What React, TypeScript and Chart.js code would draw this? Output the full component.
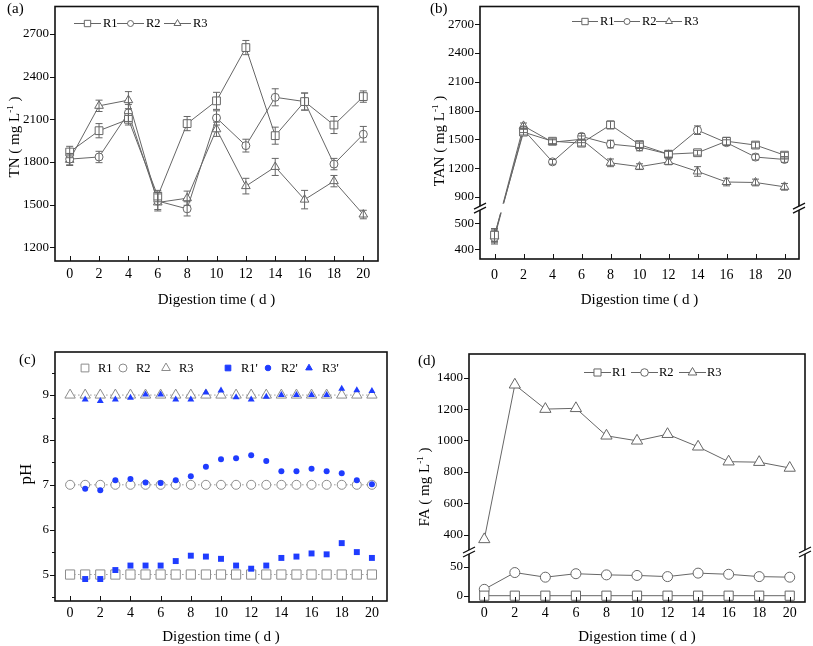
import React, { useEffect, useRef } from 'react';
import { Chart, registerables, LinearScale } from 'chart.js';

const FONT = "'Liberation Serif', 'Times New Roman', Times, serif";

// ---------------- data ----------------
const days = [0, 2, 4, 6, 8, 10, 12, 14, 16, 18, 20];
const xTicks = [0, 2, 4, 6, 8, 10, 12, 14, 16, 18, 20];

// (a) TN
const tnR1 = [1870, 2020, 2100, 1560, 2070, 2230, 2605, 1985, 2225, 2060, 2260];
const tnR2 = [1820, 1835, 2145, 1525, 1470, 2110, 1915, 2255, 2225, 1785, 1995];
const tnR3 = [1815, 2195, 2235, 1515, 1545, 2030, 1630, 1765, 1535, 1665, 1430];
const tnErrR1 = [40, 50, 40, 40, 50, 60, 50, 60, 60, 60, 40];
const tnErrR2 = [40, 40, 60, 60, 50, 50, 45, 60, 60, 40, 55];
const tnErrR3 = [40, 40, 60, 60, 50, 50, 55, 60, 65, 40, 30];
const tnTicks = [1200, 1500, 1800, 2100, 2400, 2700];

// (b) TAN
const tanR1 = [455, 1575, 1480, 1460, 1650, 1445, 1345, 1360, 1480, 1440, 1335];
const tanR2 = [445, 1600, 1265, 1530, 1450, 1420, 1345, 1595, 1465, 1315, 1290];
const tanR3 = [450, 1640, 1470, 1500, 1255, 1215, 1265, 1165, 1055, 1050, 1005];
const tanErrR1 = [25, 30, 25, 30, 40, 30, 35, 25, 40, 30, 30];
const tanErrR2 = [25, 30, 25, 30, 40, 40, 30, 45, 30, 30, 30];
const tanErrR3 = [25, 30, 25, 35, 40, 30, 30, 50, 40, 35, 35];
const tanTicks = [400, 500, 900, 1200, 1500, 1800, 2100, 2400, 2700];

// (c) pH
const phDays = [0, 1, 2, 3, 4, 5, 6, 7, 8, 9, 10, 11, 12, 13, 14, 15, 16, 17, 18, 19, 20];
const phR1 = [5, 5, 5, 5, 5, 5, 5, 5, 5, 5, 5, 5, 5, 5, 5, 5, 5, 5, 5, 5, 5];
const phR2 = [7, 7, 7, 7, 7, 7, 7, 7, 7, 7, 7, 7, 7, 7, 7, 7, 7, 7, 7, 7, 7];
const phR3 = [9, 9, 9, 9, 9, 9, 9, 9, 9, 9, 9, 9, 9, 9, 9, 9, 9, 9, 9, 9, 9];
const phDaysP = [1, 2, 3, 4, 5, 6, 7, 8, 9, 10, 11, 12, 13, 14, 15, 16, 17, 18, 19, 20];
const phR1p = [4.9, 4.9, 5.1, 5.2, 5.2, 5.2, 5.3, 5.42, 5.4, 5.35, 5.2, 5.13, 5.2, 5.37, 5.4, 5.47, 5.45, 5.7, 5.5, 5.37];
const phR2p = [6.91, 6.88, 7.1, 7.13, 7.05, 7.04, 7.1, 7.19, 7.4, 7.57, 7.59, 7.66, 7.53, 7.3, 7.3, 7.36, 7.3, 7.26, 7.1, 7.01];
const phR3p = [8.9, 8.87, 8.9, 8.94, 9.01, 9.01, 8.9, 8.9, 9.06, 9.1, 8.95, 8.9, 8.96, 9.0, 9.0, 9.0, 9.0, 9.14, 9.11, 9.09];
const phTicks = [5, 6, 7, 8, 9];
const phMinorTicks = [4.5, 5.5, 6.5, 7.5, 8.5, 9.5];

// (d) FA
const faR1 = [0, 0, 0, 0, 0, 0, 0, 0, 0, 0, 0];
const faR2 = [11, 40, 32, 38, 36, 35, 33, 39, 37, 33, 32];
const faR3 = [370, 1355, 1200, 1205, 1030, 998, 1040, 960, 865, 862, 825];
const faTicks = [0, 50, 400, 600, 800, 1000, 1200, 1400];

// ---------------- broken axis scale ----------------
class BrokenScale extends LinearScale {
  static id = 'brokenLinear';
  static defaults = {};
  _frac(v: number) {
    const o: any = this.options;
    if (v <= o.segLowMax) return ((v - o.segLowMin) / (o.segLowMax - o.segLowMin)) * o.segLowTo;
    if (v >= o.segHighMin)
      return o.segHighFrom + ((v - o.segHighMin) / (o.segHighMax - o.segHighMin)) * (1 - o.segHighFrom);
    return o.segLowTo + ((v - o.segLowMax) / (o.segHighMin - o.segLowMax)) * (o.segHighFrom - o.segLowTo);
  }
  getPixelForValue(value: any) {
    if (value === null || value === undefined || Number.isNaN(+value)) return NaN;
    return this.getPixelForDecimal(this._frac(+value));
  }
  getValueForPixel(pixel: number) {
    const o: any = this.options;
    const f = this.getDecimalForPixel(pixel);
    if (f <= o.segLowTo) return o.segLowMin + (f / o.segLowTo) * (o.segLowMax - o.segLowMin);
    if (f >= o.segHighFrom)
      return o.segHighMin + ((f - o.segHighFrom) / (1 - o.segHighFrom)) * (o.segHighMax - o.segHighMin);
    return o.segLowMax + ((f - o.segLowTo) / (o.segHighFrom - o.segLowTo)) * (o.segHighMin - o.segLowMax);
  }
}
Chart.register(...registerables, BrokenScale as any);

// ---------------- helpers ----------------
const LINE = '#666666';
const GRAYC = '#8c8c8c';
const BLUE = '#1f3cff';
const LEGEND_FONT = 12.5;

const pts = (xs: number[], ys: number[]) => xs.map((x, i) => ({ x, y: ys[i] }));

function series(label: string, xs: number[], ys: number[], style: string, r: number, errs?: number[]) {
  return {
    label,
    data: pts(xs, ys),
    borderColor: LINE,
    borderWidth: 1,
    pointStyle: style,
    pointRadius: r,
    pointHoverRadius: r,
    pointBackgroundColor: '#fff',
    pointBorderColor: LINE,
    pointBorderWidth: 1,
    fill: false,
    tension: 0,
    errorBars: errs,
  };
}

function drawMarker(ctx: CanvasRenderingContext2D, style: string, x: number, y: number, r: number, fill: string, stroke: string) {
  ctx.beginPath();
  if (style === 'rect') {
    const s = r * Math.SQRT1_2;
    ctx.rect(x - s, y - s, 2 * s, 2 * s);
  } else if (style === 'circle') {
    ctx.arc(x, y, r, 0, Math.PI * 2);
  } else {
    ctx.moveTo(x, y - r);
    ctx.lineTo(x + r * 0.866, y + r / 2);
    ctx.lineTo(x - r * 0.866, y + r / 2);
    ctx.closePath();
  }
  ctx.fillStyle = fill;
  ctx.fill();
  ctx.strokeStyle = stroke;
  ctx.lineWidth = 1;
  ctx.stroke();
}

function drawYTitle(ctx: CanvasRenderingContext2D, cx: number, cy: number, parts: any[]) {
  ctx.save();
  ctx.translate(cx, cy);
  ctx.rotate(-Math.PI / 2);
  let total = 0;
  const ws = parts.map((p) => {
    ctx.font = `${p.size}px ${FONT}`;
    const w = ctx.measureText(p.t).width;
    total += w;
    return w;
  });
  let x = -total / 2;
  ctx.textBaseline = 'alphabetic';
  ctx.textAlign = 'left';
  ctx.fillStyle = '#000';
  parts.forEach((p, i) => {
    ctx.font = `${p.size}px ${FONT}`;
    ctx.fillText(p.t, x, 5 + (p.dy || 0));
    x += ws[i];
  });
  ctx.restore();
}

function decor(cfg: any) {
  return {
    id: 'decor',
    afterDatasetsDraw(chart: any) {
      const { ctx, chartArea: ca } = chart;
      const ys = chart.scales.y;
      ctx.save();
      if (cfg.broken) {
        const o = ys.options;
        const pLow = ys.getPixelForDecimal(o.segLowTo);
        const pHigh = ys.getPixelForDecimal(o.segHighFrom);
        ctx.fillStyle = '#fff';
        ctx.fillRect(ca.left + 1, pHigh, ca.right - ca.left - 2, pLow - pHigh);
      }
      chart.data.datasets.forEach((ds: any, i: number) => {
        const errs = ds.errorBars;
        if (!errs) return;
        const meta = chart.getDatasetMeta(i);
        ctx.strokeStyle = ds.borderColor;
        ctx.lineWidth = 1;
        meta.data.forEach((pt: any, j: number) => {
          const v = ds.data[j].y;
          const e = errs[j];
          const y1 = ys.getPixelForValue(v + e);
          const y2 = ys.getPixelForValue(v - e);
          ctx.beginPath();
          ctx.moveTo(pt.x, y1);
          ctx.lineTo(pt.x, y2);
          ctx.moveTo(pt.x - 3.5, y1);
          ctx.lineTo(pt.x + 3.5, y1);
          ctx.moveTo(pt.x - 3.5, y2);
          ctx.lineTo(pt.x + 3.5, y2);
          ctx.stroke();
        });
      });
      ctx.restore();
    },
    afterDraw(chart: any) {
      const { ctx, chartArea: ca } = chart;
      const xs = chart.scales.x;
      const ys = chart.scales.y;
      ctx.save();
      // frame
      ctx.strokeStyle = '#111';
      ctx.lineWidth = 1.6;
      ctx.strokeRect(ca.left, ca.top, ca.right - ca.left, ca.bottom - ca.top);
      // ticks
      ctx.lineWidth = 1;
      ctx.strokeStyle = '#111';
      ctx.beginPath();
      ys.ticks.forEach((t: any) => {
        const y = Math.round(ys.getPixelForValue(t.value)) + 0.5;
        ctx.moveTo(ca.left - 5, y);
        ctx.lineTo(ca.left, y);
      });
      (cfg.yMinor || []).forEach((v: number) => {
        const y = Math.round(ys.getPixelForValue(v)) + 0.5;
        ctx.moveTo(ca.left - 3, y);
        ctx.lineTo(ca.left, y);
      });
      xs.ticks.forEach((t: any) => {
        const x = Math.round(xs.getPixelForValue(t.value)) + 0.5;
        ctx.moveTo(x, ca.bottom);
        ctx.lineTo(x, ca.bottom - 5);
      });
      ctx.stroke();
      // axis break marks
      if (cfg.broken) {
        const o = ys.options;
        const pc = (ys.getPixelForDecimal(o.segLowTo) + ys.getPixelForDecimal(o.segHighFrom)) / 2;
        [ca.left, ca.right].forEach((x: number) => {
          ctx.fillStyle = '#fff';
          ctx.fillRect(x - 2, pc - 2, 4, 4);
          ctx.strokeStyle = '#111';
          ctx.lineWidth = 1.3;
          ctx.beginPath();
          ctx.moveTo(x - 6, pc + 5);
          ctx.lineTo(x + 6, pc - 1);
          ctx.moveTo(x - 6, pc + 1);
          ctx.lineTo(x + 6, pc - 5);
          ctx.stroke();
        });
      }
      // legend
      const lg = cfg.legend;
      ctx.textBaseline = 'middle';
      ctx.textAlign = 'left';
      lg.items.forEach((it: any) => {
        const ds = chart.data.datasets[it.ds];
        if (lg.line) {
          ctx.strokeStyle = ds.borderColor;
          ctx.lineWidth = 1;
          ctx.beginPath();
          ctx.moveTo(it.x, lg.y + 0.5);
          ctx.lineTo(it.x + lg.lineLen, lg.y + 0.5);
          ctx.stroke();
          drawMarker(ctx, ds.pointStyle, it.x + lg.lineLen / 2, lg.y + 0.5, lg.r[it.ds], ds.pointBackgroundColor, ds.pointBorderColor);
        } else {
          drawMarker(ctx, ds.pointStyle, it.x, lg.y, lg.r[it.ds], ds.pointBackgroundColor, ds.pointBorderColor);
        }
        ctx.fillStyle = '#000';
        ctx.font = `${LEGEND_FONT}px ${FONT}`;
        ctx.fillText(ds.label, it.x + lg.textOff, lg.y + 1);
      });
      // panel label
      ctx.fillStyle = '#000';
      ctx.font = `15px ${FONT}`;
      ctx.textBaseline = 'middle';
      ctx.fillText(cfg.panel.text, cfg.panel.x, cfg.panel.y);
      // y title
      drawYTitle(ctx, cfg.yTitle.x, cfg.yTitle.y, cfg.yTitle.parts);
      ctx.restore();
    },
  };
}

function commonOptions(o: any) {
  const zeroPad = (s: any) => {
    s.paddingLeft = 0;
    s.paddingRight = 0;
    s.paddingTop = 0;
    s.paddingBottom = 0;
  };
  return {
    responsive: false,
    animation: false,
    devicePixelRatio: 1,
    events: [],
    layout: { padding: { left: 0, top: o.padTop, right: o.padRight, bottom: 0 } },
    plugins: { legend: { display: false }, tooltip: { enabled: false } },
    scales: {
      x: {
        type: 'linear',
        min: -1,
        max: 21,
        afterBuildTicks: (s: any) => {
          s.ticks = xTicks.map((v) => ({ value: v }));
        },
        afterFit: (s: any) => {
          s.height = o.xH;
          zeroPad(s);
        },
        grid: { display: false, drawTicks: false },
        border: { display: false },
        ticks: {
          font: { family: FONT, size: 14 },
          color: '#000',
          padding: o.xTickPad,
          autoSkip: false,
          maxRotation: 0,
          minRotation: 0,
          callback: (v: any) => String(v),
        },
        title: {
          display: true,
          text: 'Digestion time ( d )',
          font: { family: FONT, size: 15 },
          color: '#000',
          padding: { top: 0, bottom: o.xTitlePad },
        },
      },
      y: {
        ...o.y,
        afterBuildTicks: (s: any) => {
          s.ticks = o.yTicks.map((v: number) => ({ value: v }));
        },
        afterFit: (s: any) => {
          s.width = o.yW;
          zeroPad(s);
        },
        grid: { display: false, drawTicks: true, tickLength: 5 },
        border: { display: false },
        ticks: {
          font: { family: FONT, size: 13 },
          color: '#000',
          padding: 1,
          autoSkip: false,
          callback: (v: any) => String(v),
        },
        title: { display: false },
      },
    },
  };
}

const unitParts = (name: string) => [
  { t: `${name} ( mg L`, size: 15 },
  { t: '-1', size: 9, dy: -6 },
  { t: ' )', size: 15 },
];

export default function App() {
  const ra = useRef<HTMLCanvasElement>(null);
  const rb = useRef<HTMLCanvasElement>(null);
  const rc = useRef<HTMLCanvasElement>(null);
  const rd = useRef<HTMLCanvasElement>(null);

  useEffect(() => {
    const charts: Chart[] = [];

    // (a)
    charts.push(
      new Chart(ra.current as HTMLCanvasElement, {
        type: 'line',
        data: {
          datasets: [
            series('R1', days, tnR1, 'rect', 5.5, tnErrR1),
            series('R2', days, tnR2, 'circle', 4, tnErrR2),
            series('R3', days, tnR3, 'triangle', 5, tnErrR3),
          ] as any,
        },
        options: commonOptions({
          padTop: 3,
          padRight: 22,
          xH: 49,
          yW: 55,
          xTickPad: 5,
          xTitlePad: 1,
          y: { type: 'linear', min: 1103, max: 2894 },
          yTicks: tnTicks,
        }) as any,
        plugins: [
          decor({
            legend: { line: true, y: 23, lineLen: 27, textOff: 29, r: [4.5, 3, 4], items: [{ ds: 0, x: 74 }, { ds: 1, x: 117 }, { ds: 2, x: 164 }] },
            panel: { text: '(a)', x: 7, y: 9 },
            yTitle: { x: 14, y: 137, parts: unitParts('TN') },
          }),
        ],
      })
    );

    // (b)
    charts.push(
      new Chart(rb.current as HTMLCanvasElement, {
        type: 'line',
        data: {
          datasets: [
            series('R1', days, tanR1, 'rect', 5.5, tanErrR1),
            series('R2', days, tanR2, 'circle', 4, tanErrR2),
            series('R3', days, tanR3, 'triangle', 5, tanErrR3),
          ] as any,
        },
        options: commonOptions({
          padTop: 3,
          padRight: 14,
          xH: 51,
          yW: 80,
          xTickPad: 8,
          xTitlePad: 1,
          y: {
            type: 'brokenLinear',
            min: 362,
            max: 2884,
            segLowMin: 362,
            segLowMax: 542,
            segLowTo: 0.184,
            segHighMin: 829,
            segHighMax: 2884,
            segHighFrom: 0.219,
          },
          yTicks: tanTicks,
        }) as any,
        plugins: [
          decor({
            broken: true,
            legend: { line: true, y: 21, lineLen: 26, textOff: 28, r: [4.5, 3, 4], items: [{ ds: 0, x: 172 }, { ds: 1, x: 214 }, { ds: 2, x: 256 }] },
            panel: { text: '(b)', x: 30, y: 9 },
            yTitle: { x: 39, y: 141, parts: unitParts('TAN') },
          }),
        ],
      })
    );

    // (c)
    const grayDs = (label: string, ys: number[], style: string, r: number) => ({
      label,
      data: pts(phDays, ys),
      borderColor: '#9a9a9a',
      borderWidth: 1,
      borderDash: [1.5, 2.5],
      pointStyle: style,
      pointRadius: r,
      pointHoverRadius: r,
      pointBackgroundColor: '#fff',
      pointBorderColor: GRAYC,
      pointBorderWidth: 1,
      fill: false,
      order: 2,
    });
    const blueDs = (label: string, ys: number[], style: string, r: number) => ({
      label,
      data: pts(phDaysP, ys),
      showLine: false,
      borderColor: BLUE,
      pointStyle: style,
      pointRadius: r,
      pointHoverRadius: r,
      pointBackgroundColor: BLUE,
      pointBorderColor: BLUE,
      pointBorderWidth: 0,
      fill: false,
      order: 1,
    });
    charts.push(
      new Chart(rc.current as HTMLCanvasElement, {
        type: 'line',
        data: {
          datasets: [
            grayDs('R1', phR1, 'rect', 6.5),
            grayDs('R2', phR2, 'circle', 4.5),
            grayDs('R3', phR3, 'triangle', 6),
            blueDs("R1'", phR1p, 'rect', 4.2),
            blueDs("R2'", phR2p, 'circle', 3),
            blueDs("R3'", phR3p, 'triangle', 4),
          ] as any,
        },
        options: commonOptions({
          padTop: 32,
          padRight: 13,
          xH: 45,
          yW: 55,
          xTickPad: 4,
          xTitlePad: 0,
          y: { type: 'linear', min: 4.41, max: 9.96 },
          yTicks: phTicks,
        }) as any,
        plugins: [
          decor({
            yMinor: phMinorTicks,
            legend: {
              line: false,
              y: 48,
              textOff: 13,
              r: [5.5, 4, 5, 4, 2.8, 3.8],
              items: [
                { ds: 0, x: 85 },
                { ds: 1, x: 123 },
                { ds: 2, x: 166 },
                { ds: 3, x: 228 },
                { ds: 4, x: 268 },
                { ds: 5, x: 309 },
              ],
            },
            panel: { text: '(c)', x: 19, y: 40 },
            yTitle: { x: 26, y: 154, parts: [{ t: 'pH', size: 17 }] },
          }),
        ],
      })
    );

    // (d)
    charts.push(
      new Chart(rd.current as HTMLCanvasElement, {
        type: 'line',
        data: {
          datasets: [
            series('R1', days, faR1, 'rect', 6.5),
            series('R2', days, faR2, 'circle', 5),
            series('R3', days, faR3, 'triangle', 6.5),
          ] as any,
        },
        options: commonOptions({
          padTop: 34,
          padRight: 8,
          xH: 44,
          yW: 69,
          xTickPad: 3,
          xTitlePad: 0,
          y: {
            type: 'brokenLinear',
            min: -10.9,
            max: 1551,
            segLowMin: -10.9,
            segLowMax: 68.4,
            segLowTo: 0.185,
            segHighMin: 315.6,
            segHighMax: 1551,
            segHighFrom: 0.218,
          },
          yTicks: faTicks,
        }) as any,
        plugins: [
          decor({
            broken: true,
            legend: { line: true, y: 52, lineLen: 27, textOff: 28, r: [5, 3.8, 5], items: [{ ds: 0, x: 184 }, { ds: 1, x: 231 }, { ds: 2, x: 279 }] },
            panel: { text: '(d)', x: 18, y: 41 },
            yTitle: { x: 24, y: 167, parts: unitParts('FA') },
          }),
        ],
      })
    );

    return () => charts.forEach((c) => c.destroy());
  }, []);

  const cs = (l: number, t: number, w: number, h: number): React.CSSProperties => ({
    position: 'absolute',
    left: l,
    top: t,
    width: w,
    height: h,
  });

  return (
    <div style={{ position: 'absolute', left: 0, top: 0, width: 813, height: 646, background: '#fff', overflow: 'hidden' }}>
      <canvas ref={ra} width={400} height={310} style={cs(0, 0, 400, 310)} />
      <canvas ref={rb} width={413} height={310} style={cs(400, 0, 413, 310)} />
      <canvas ref={rc} width={400} height={326} style={cs(0, 320, 400, 326)} />
      <canvas ref={rd} width={413} height={326} style={cs(400, 320, 413, 326)} />
    </div>
  );
}
